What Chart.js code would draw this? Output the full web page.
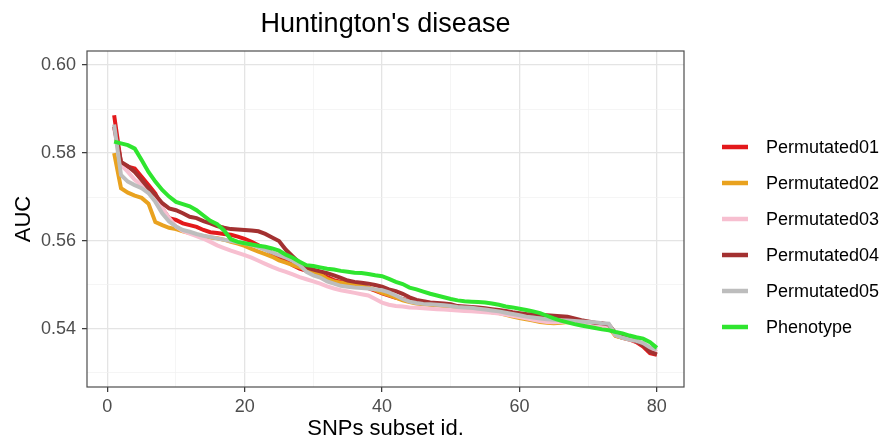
<!DOCTYPE html>
<html>
<head>
<meta charset="utf-8">
<script src="https://cdn.jsdelivr.net/npm/chart.js@4.4.1/dist/chart.umd.min.js"></script>
<style>
  html, body { margin: 0; padding: 0; background: #fff; }
  #wrap { width: 895px; height: 442px; }
</style>
</head>
<body>
<div id="wrap"><canvas id="aucChart" width="895" height="442"></canvas></div>
<script>
// ---- data ----
const chartTitle = "Huntington's disease";
const xTitle = 'SNPs subset id.';
const yTitle = 'AUC';

const subsetIds = [1,2,3,4,5,6,7,8,9,10,11,12,13,14,15,16,17,18,19,20,
  21,22,23,24,25,26,27,28,29,30,31,32,33,34,35,36,37,38,39,40,
  41,42,43,44,45,46,47,48,49,50,51,52,53,54,55,56,57,58,59,60,
  61,62,63,64,65,66,67,68,69,70,71,72,73,74,75,76,77,78,79,80];

const xTickValues = [0, 10, 20, 30, 40, 50, 60, 70, 80];
const yTickValues = [0.53, 0.54, 0.55, 0.56, 0.57, 0.58, 0.59, 0.60];

const seriesNames = ['Permutated01', 'Permutated02', 'Permutated03', 'Permutated04', 'Permutated05', 'Phenotype'];
const seriesColors = ['#e3191b', '#e9a21f', '#f7bfd0', '#a33131', '#bdbdbd', '#2fe52f'];

const permutated01 = [0.5886,0.5777,0.5769,0.5765,0.5746,0.5727,0.5708,0.5674,0.5652,0.5648,
  0.5640,0.5636,0.5632,0.5625,0.5620,0.5618,0.5616,0.5614,0.5610,0.5605,
  0.5598,0.5590,0.5582,0.5572,0.5560,0.5555,0.5545,0.5537,0.5532,0.5528,
  0.5524,0.5518,0.5511,0.5507,0.5504,0.5500,0.5496,0.5493,0.5487,0.5481,
  0.5476,0.5471,0.5468,0.5464,0.5460,0.5458,0.5456,0.5455,0.5453,0.5450,
  0.5448,0.5447,0.5446,0.5444,0.5442,0.5440,0.5438,0.5434,0.5430,0.5427,
  0.5424,0.5421,0.5419,0.5417,0.5416,0.5420,0.5422,0.5420,0.5417,0.5414,
  0.5411,0.5408,0.5404,0.5385,0.5380,0.5376,0.5370,0.5360,0.5345,0.5341];

const permutated02 = [0.5800,0.5720,0.5710,0.5703,0.5698,0.5685,0.5643,0.5636,0.5630,0.5627,
  0.5622,0.5618,0.5614,0.5611,0.5608,0.5606,0.5603,0.5598,0.5594,0.5589,
  0.5582,0.5576,0.5570,0.5564,0.5556,0.5551,0.5545,0.5540,0.5535,0.5530,
  0.5524,0.5514,0.5508,0.5505,0.5503,0.5500,0.5497,0.5494,0.5489,0.5482,
  0.5477,0.5471,0.5465,0.5461,0.5458,0.5456,0.5455,0.5454,0.5452,0.5449,
  0.5447,0.5446,0.5445,0.5443,0.5441,0.5438,0.5436,0.5432,0.5428,0.5425,
  0.5422,0.5419,0.5416,0.5414,0.5413,0.5414,0.5416,0.5415,0.5413,0.5411,
  0.5409,0.5406,0.5403,0.5384,0.5380,0.5377,0.5373,0.5365,0.5352,0.5348];

const permutated03 = [0.5856,0.5773,0.5757,0.5739,0.5727,0.5712,0.5693,0.5675,0.5652,0.5633,
  0.5623,0.5617,0.5611,0.5605,0.5598,0.5590,0.5584,0.5578,0.5573,0.5568,
  0.5562,0.5555,0.5548,0.5541,0.5535,0.5530,0.5524,0.5518,0.5513,0.5508,
  0.5503,0.5497,0.5492,0.5488,0.5485,0.5482,0.5479,0.5476,0.5468,0.5460,
  0.5455,0.5452,0.5451,0.5449,0.5448,0.5447,0.5446,0.5445,0.5444,0.5443,
  0.5442,0.5441,0.5440,0.5439,0.5438,0.5437,0.5435,0.5433,0.5430,0.5427,
  0.5424,0.5421,0.5418,0.5416,0.5415,0.5416,0.5417,0.5416,0.5414,0.5412,
  0.5410,0.5407,0.5404,0.5386,0.5381,0.5377,0.5372,0.5364,0.5352,0.5348];

const permutated04 = [0.5860,0.5780,0.5770,0.5757,0.5739,0.5720,0.5705,0.5686,0.5674,0.5670,
  0.5663,0.5655,0.5652,0.5645,0.5640,0.5634,0.5630,0.5627,0.5626,0.5625,
  0.5624,0.5622,0.5616,0.5608,0.5600,0.5580,0.5565,0.5550,0.5540,0.5535,
  0.5531,0.5527,0.5522,0.5516,0.5510,0.5507,0.5505,0.5503,0.5500,0.5496,
  0.5490,0.5486,0.5480,0.5472,0.5466,0.5463,0.5460,0.5459,0.5458,0.5456,
  0.5452,0.5451,0.5450,0.5449,0.5447,0.5445,0.5443,0.5441,0.5438,0.5436,
  0.5434,0.5433,0.5432,0.5431,0.5430,0.5429,0.5428,0.5424,0.5420,0.5417,
  0.5414,0.5413,0.5410,0.5390,0.5383,0.5378,0.5372,0.5363,0.5348,0.5342];

const permutated05 = [0.5865,0.5750,0.5735,0.5727,0.5720,0.5709,0.5689,0.5663,0.5644,0.5633,
  0.5625,0.5621,0.5616,0.5612,0.5609,0.5606,0.5603,0.5600,0.5597,0.5595,
  0.5591,0.5586,0.5580,0.5574,0.5568,0.5562,0.5555,0.5546,0.5530,0.5522,
  0.5517,0.5508,0.5503,0.5498,0.5496,0.5494,0.5493,0.5492,0.5490,0.5488,
  0.5483,0.5476,0.5468,0.5462,0.5459,0.5457,0.5456,0.5455,0.5454,0.5452,
  0.5450,0.5449,0.5448,0.5446,0.5444,0.5442,0.5440,0.5437,0.5434,0.5431,
  0.5428,0.5426,0.5424,0.5422,0.5421,0.5420,0.5419,0.5418,0.5417,0.5416,
  0.5415,0.5413,0.5412,0.5386,0.5380,0.5376,0.5373,0.5368,0.5358,0.5353];

const phenotype = [0.5826,0.5822,0.5818,0.5810,0.5784,0.5757,0.5735,0.5716,0.5701,0.5689,
  0.5684,0.5679,0.5670,0.5658,0.5646,0.5638,0.5624,0.5604,0.5598,0.5595,
  0.5592,0.5589,0.5587,0.5583,0.5578,0.5569,0.5562,0.5553,0.5545,0.5543,
  0.5540,0.5537,0.5535,0.5532,0.5530,0.5528,0.5527,0.5525,0.5522,0.5520,
  0.5514,0.5507,0.5502,0.5494,0.5490,0.5485,0.5480,0.5476,0.5472,0.5468,
  0.5465,0.5463,0.5462,0.5461,0.5460,0.5458,0.5455,0.5451,0.5449,0.5446,
  0.5443,0.5440,0.5436,0.5430,0.5424,0.5419,0.5415,0.5411,0.5408,0.5405,
  0.5402,0.5399,0.5397,0.5393,0.5390,0.5385,0.5381,0.5378,0.5370,0.5357];

const seriesValues = [permutated01, permutated02, permutated03, permutated04, permutated05, phenotype];

// ---- chart ----
const FONT = '"Liberation Sans", Arial, sans-serif';

function isMajorX(v) { return Math.round(v) % 20 === 0; }
function isMajorY(v) { return Math.round(v * 100) % 2 === 0; }

// panel border, titles and legend drawn by hand (ggplot look)
const ggExtras = {
  id: 'ggExtras',
  afterDraw(chart) {
    const ctx = chart.ctx;
    const a = chart.chartArea;
    ctx.save();
    ctx.strokeStyle = '#4d4d4d';
    ctx.lineWidth = 1.2;
    ctx.strokeRect(a.left, a.top, a.right - a.left, a.bottom - a.top);

    ctx.fillStyle = '#000';
    ctx.textAlign = 'center';
    ctx.textBaseline = 'middle';
    ctx.font = '27px ' + FONT;
    ctx.fillText(chartTitle, (a.left + a.right) / 2, 25);

    ctx.font = '22px ' + FONT;
    ctx.fillText(xTitle, (a.left + a.right) / 2, 429);

    ctx.save();
    ctx.translate(24, (a.top + a.bottom) / 2);
    ctx.rotate(-Math.PI / 2);
    ctx.fillText(yTitle, 0, 0);
    ctx.restore();

    // legend
    ctx.font = '18px ' + FONT;
    ctx.textAlign = 'left';
    seriesNames.forEach((name, i) => {
      const y = 147 + i * 36;
      ctx.strokeStyle = seriesColors[i];
      ctx.lineWidth = 4.5;
      ctx.beginPath();
      ctx.moveTo(722, y);
      ctx.lineTo(748, y);
      ctx.stroke();
      ctx.fillStyle = '#000';
      ctx.fillText(name, 766, y + 1);
    });
    ctx.restore();
  }
};

const ctx = document.getElementById('aucChart').getContext('2d');

const datasets = seriesNames.map((name, i) => ({
  label: name,
  data: seriesValues[i].map((v, j) => ({ x: subsetIds[j], y: v })),
  borderColor: seriesColors[i],
  backgroundColor: seriesColors[i],
  borderWidth: 4,
  pointRadius: 0,
  tension: 0,
  fill: false,
  order: seriesNames.length - i
}));

const config = {
  type: 'line',
  data: { datasets: datasets },
  options: {
    responsive: false,
    animation: false,
    devicePixelRatio: 1,
    layout: {
      padding: { left: 0, top: 51, right: 211, bottom: 0 }
    },
    plugins: {
      legend: { display: false },
      title: { display: false },
      tooltip: { enabled: false }
    },
    scales: {
      x: {
        type: 'linear',
        min: -2.95,
        max: 83.95,
        afterBuildTicks: (scale) => { scale.ticks = xTickValues.map(v => ({ value: v })); },
        afterFit: (scale) => { scale.height = 55; },
        border: { display: false },
        grid: {
          color: (c) => (c.tick && isMajorX(c.tick.value)) ? '#e4e4e4' : '#f0f0f0',
          lineWidth: (c) => (c.tick && isMajorX(c.tick.value)) ? 1.3 : 0.7,
          tickColor: (c) => (c.tick && isMajorX(c.tick.value)) ? '#333333' : 'rgba(0,0,0,0)',
          tickLength: 5,
          tickWidth: 1.2
        },
        ticks: {
          autoSkip: false,
          maxRotation: 0,
          padding: 4,
          color: '#4d4d4d',
          font: { family: FONT, size: 18 },
          callback: (v) => isMajorX(v) ? String(v) : ''
        }
      },
      y: {
        min: 0.5268,
        max: 0.6032,
        afterBuildTicks: (scale) => { scale.ticks = yTickValues.map(v => ({ value: v })); },
        afterFit: (scale) => { scale.width = 87; },
        border: { display: false },
        grid: {
          color: (c) => (c.tick && isMajorY(c.tick.value)) ? '#e4e4e4' : '#f0f0f0',
          lineWidth: (c) => (c.tick && isMajorY(c.tick.value)) ? 1.3 : 0.7,
          tickColor: (c) => (c.tick && isMajorY(c.tick.value)) ? '#333333' : 'rgba(0,0,0,0)',
          tickLength: 5,
          tickWidth: 1.2
        },
        ticks: {
          autoSkip: false,
          padding: 6,
          color: '#4d4d4d',
          font: { family: FONT, size: 18 },
          callback: (v) => isMajorY(v) ? v.toFixed(2) : ''
        }
      }
    }
  },
  plugins: [ggExtras]
};

const aucChart = new Chart(ctx, config);
</script>
</body>
</html>
